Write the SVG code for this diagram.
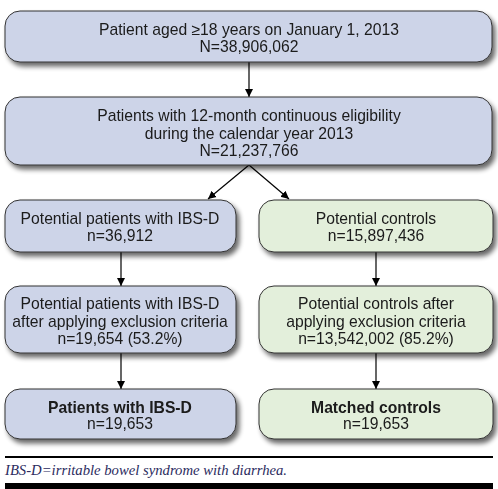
<svg xmlns="http://www.w3.org/2000/svg" width="498" height="489" viewBox="0 0 498 489">
<defs>
<filter id="sh" x="-10%" y="-20%" width="125%" height="160%">
<feGaussianBlur in="SourceAlpha" stdDeviation="2.5"/>
<feOffset dx="3" dy="4" result="b"/>
<feComponentTransfer><feFuncA type="linear" slope="0.6"/></feComponentTransfer>
<feMerge><feMergeNode/><feMergeNode in="SourceGraphic"/></feMerge>
</filter>
<marker id="ah" viewBox="0 0 10 10" refX="10" refY="5" markerWidth="8" markerHeight="9" markerUnits="userSpaceOnUse" orient="auto">
<path d="M0,0 L10,5 L0,10 z" fill="#000"/>
</marker>
</defs>
<style>
.blue{fill:#cdd4e8;stroke:#333;stroke-width:1}
.green{fill:#e3efdb;stroke:#333;stroke-width:1}
text{font-family:"Liberation Sans",Arial,sans-serif;font-size:15.7px;fill:#1a1a1a;text-anchor:middle}
.b{font-weight:bold}
.con line{stroke:#000;stroke-width:1.2;marker-end:url(#ah)}
.foot{font-family:"Liberation Serif","Times New Roman",serif;font-style:italic;font-size:14.7px;fill:#2b2b5e;text-anchor:start}
</style>
<rect width="498" height="489" fill="#fff"/>
<g class="con">
<line x1="249" y1="62" x2="249" y2="97"/>
<line x1="249" y1="165" x2="208" y2="199"/>
<line x1="249" y1="165" x2="289" y2="199"/>
<line x1="121" y1="252" x2="121" y2="286"/>
<line x1="376" y1="252" x2="376" y2="286"/>
<line x1="121" y1="353" x2="121" y2="389"/>
<line x1="376" y1="353" x2="376" y2="389"/>
</g>
<g id="n1" filter="url(#sh)">
<rect class="blue" x="5" y="11" width="487" height="51" rx="15"/>
<text x="249" y="34.5">Patient aged ≥18 years on January 1, 2013</text>
<text x="249" y="51.5">N=38,906,062</text>
</g>
<g id="n2" filter="url(#sh)">
<rect class="blue" x="5" y="97" width="487" height="68" rx="15"/>
<text x="249" y="120.5">Patients with 12-month continuous eligibility</text>
<text x="249" y="138.5">during the calendar year 2013</text>
<text x="249" y="155.5">N=21,237,766</text>
</g>
<g id="n3" filter="url(#sh)">
<rect class="blue" x="5" y="200" width="231" height="52" rx="15"/>
<text x="120" y="223.5">Potential patients with IBS-D</text>
<text x="120" y="240.5">n=36,912</text>
</g>
<g id="n4" filter="url(#sh)">
<rect class="green" x="259" y="200" width="234" height="52" rx="15"/>
<text x="376" y="223.5">Potential controls</text>
<text x="376" y="240.5">n=15,897,436</text>
</g>
<g id="n5" filter="url(#sh)">
<rect class="blue" x="5" y="286" width="231" height="67" rx="15"/>
<text x="120" y="308.5">Potential patients with IBS-D</text>
<text x="120" y="326.5">after applying exclusion criteria</text>
<text x="120" y="343.5">n=19,654 (53.2%)</text>
</g>
<g id="n6" filter="url(#sh)">
<rect class="green" x="259" y="286" width="234" height="67" rx="15"/>
<text x="376" y="308.5">Potential controls after</text>
<text x="376" y="326.5">applying exclusion criteria</text>
<text x="376" y="343.5">n=13,542,002 (85.2%)</text>
</g>
<g id="n7" filter="url(#sh)">
<rect class="blue" x="5" y="389" width="231" height="50" rx="15"/>
<text class="b" x="120" y="412.5">Patients with IBS-D</text>
<text x="120" y="428.5">n=19,653</text>
</g>
<g id="n8" filter="url(#sh)">
<rect class="green" x="259" y="389" width="234" height="50" rx="15"/>
<text class="b" x="376" y="412.5">Matched controls</text>
<text x="376" y="428.5">n=19,653</text>
</g>
<line x1="5" y1="457" x2="493" y2="457" stroke="#000" stroke-width="2"/>
<text class="foot" x="5" y="475">IBS-D=irritable bowel syndrome with diarrhea.</text>
<rect x="5" y="483" width="488" height="6" fill="#000"/>
</svg>
